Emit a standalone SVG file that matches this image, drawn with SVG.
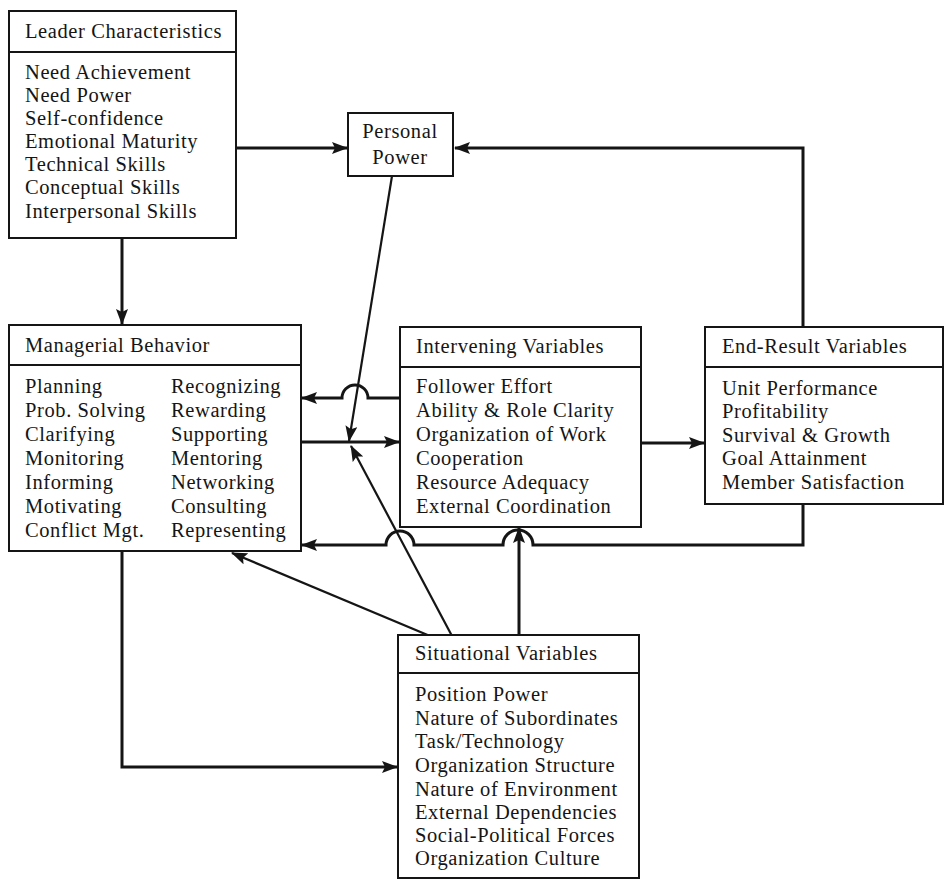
<svg xmlns="http://www.w3.org/2000/svg" width="946" height="882" viewBox="0 0 946 882">
  <style>
    .box { fill: #fff; stroke: #151515; stroke-width: 2; }
    .div { stroke: #151515; stroke-width: 2; }
    text { font-family: "Liberation Serif", "Times New Roman", serif; font-size: 20.5px; fill: #151515; letter-spacing: 0.6px; }
    .c { text-anchor: middle; }
    .wire { fill: none; stroke: #151515; stroke-width: 3; }
    .thin { fill: none; stroke: #151515; stroke-width: 2.2; }
  </style>
  <defs>
    <marker id="ah" viewBox="0 0 16 12" refX="15" refY="6" markerWidth="16" markerHeight="12" markerUnits="userSpaceOnUse" orient="auto">
      <path d="M0,0 L16,6 L0,12 L3,6 Z" fill="#151515"/>
    </marker>
  </defs>
  <rect width="946" height="882" fill="#fff"/>

  <g id="connectors">
    <!-- Leader -> Personal Power -->
    <path class="wire" d="M236,148 H347" marker-end="url(#ah)"/>
    <!-- End-Result -> Personal Power -->
    <path class="wire" d="M803,327 V148 H455" marker-end="url(#ah)"/>
    <!-- Leader -> Managerial -->
    <path class="wire" d="M122,238 V324" marker-end="url(#ah)"/>
    <!-- Intervening -> Managerial (hop over Personal Power line) -->
    <path class="wire" d="M400,398 H368 A13,13 0 0 0 342,398 H302" marker-end="url(#ah)"/>
    <!-- Managerial -> Intervening -->
    <path class="wire" d="M301,442 H399" marker-end="url(#ah)"/>
    <!-- Intervening -> End-Result -->
    <path class="wire" d="M641,443 H704" marker-end="url(#ah)"/>
    <!-- End-Result -> Managerial (two hops) -->
    <path class="wire" d="M803,504 V545 H533 A15,15 0 0 0 503,545 H414 A14,14 0 0 0 386,545 H302" marker-end="url(#ah)"/>
    <!-- Personal Power -> Managerial/Intervening link -->
    <path class="thin" d="M392,176 L349,441" marker-end="url(#ah)"/>
    <!-- Situational -> Personal Power link -->
    <path class="thin" d="M452,636 L351,446" marker-end="url(#ah)"/>
    <!-- Situational -> Managerial -->
    <path class="thin" d="M430,636 L232,553" marker-end="url(#ah)"/>
    <!-- Situational -> Intervening -->
    <path class="wire" d="M519,636 V528" marker-end="url(#ah)"/>
    <!-- Managerial -> Situational -->
    <path class="wire" d="M122,551 V767 H397" marker-end="url(#ah)"/>
  </g>

  <g id="leader">
    <rect class="box" x="9" y="11" width="227" height="227"/>
    <line class="div" x1="9" y1="52" x2="236" y2="52"/>
    <text x="25" y="38">Leader Characteristics</text>
    <text x="25" y="79">Need Achievement</text>
    <text x="25" y="102">Need Power</text>
    <text x="25" y="125">Self-confidence</text>
    <text x="25" y="148">Emotional Maturity</text>
    <text x="25" y="171">Technical Skills</text>
    <text x="25" y="194">Conceptual Skills</text>
    <text x="25" y="218">Interpersonal Skills</text>
  </g>

  <g id="personal-power">
    <rect class="box" x="348" y="113" width="105" height="63"/>
    <text class="c" x="400" y="138">Personal</text>
    <text class="c" x="400" y="164">Power</text>
  </g>

  <g id="managerial">
    <rect class="box" x="9" y="325" width="292" height="226"/>
    <line class="div" x1="9" y1="365" x2="301" y2="365"/>
    <text x="25" y="352">Managerial Behavior</text>
    <text x="25" y="393">Planning</text>
    <text x="25" y="417">Prob. Solving</text>
    <text x="25" y="441">Clarifying</text>
    <text x="25" y="465">Monitoring</text>
    <text x="25" y="489">Informing</text>
    <text x="25" y="513">Motivating</text>
    <text x="25" y="537">Conflict Mgt.</text>
    <text x="171" y="393">Recognizing</text>
    <text x="171" y="417">Rewarding</text>
    <text x="171" y="441">Supporting</text>
    <text x="171" y="465">Mentoring</text>
    <text x="171" y="489">Networking</text>
    <text x="171" y="513">Consulting</text>
    <text x="171" y="537">Representing</text>
  </g>

  <g id="intervening">
    <rect class="box" x="400" y="327" width="241" height="200"/>
    <line class="div" x1="400" y1="367" x2="641" y2="367"/>
    <text x="416" y="353">Intervening Variables</text>
    <text x="416" y="393">Follower Effort</text>
    <text x="416" y="417">Ability &amp; Role Clarity</text>
    <text x="416" y="441">Organization of Work</text>
    <text x="416" y="465">Cooperation</text>
    <text x="416" y="489">Resource Adequacy</text>
    <text x="416" y="513">External Coordination</text>
  </g>

  <g id="end-result">
    <rect class="box" x="705" y="327" width="238" height="177"/>
    <line class="div" x1="705" y1="367" x2="943" y2="367"/>
    <text x="722" y="353">End-Result Variables</text>
    <text x="722" y="395">Unit Performance</text>
    <text x="722" y="418">Profitability</text>
    <text x="722" y="442">Survival &amp; Growth</text>
    <text x="722" y="465">Goal Attainment</text>
    <text x="722" y="489">Member Satisfaction</text>
  </g>

  <g id="situational">
    <rect class="box" x="398" y="635" width="241" height="243"/>
    <line class="div" x1="398" y1="673" x2="639" y2="673"/>
    <text x="415" y="660">Situational Variables</text>
    <text x="415" y="701">Position Power</text>
    <text x="415" y="725">Nature of Subordinates</text>
    <text x="415" y="748">Task/Technology</text>
    <text x="415" y="772">Organization Structure</text>
    <text x="415" y="796">Nature of Environment</text>
    <text x="415" y="819">External Dependencies</text>
    <text x="415" y="842">Social-Political Forces</text>
    <text x="415" y="865">Organization Culture</text>
  </g>
</svg>
